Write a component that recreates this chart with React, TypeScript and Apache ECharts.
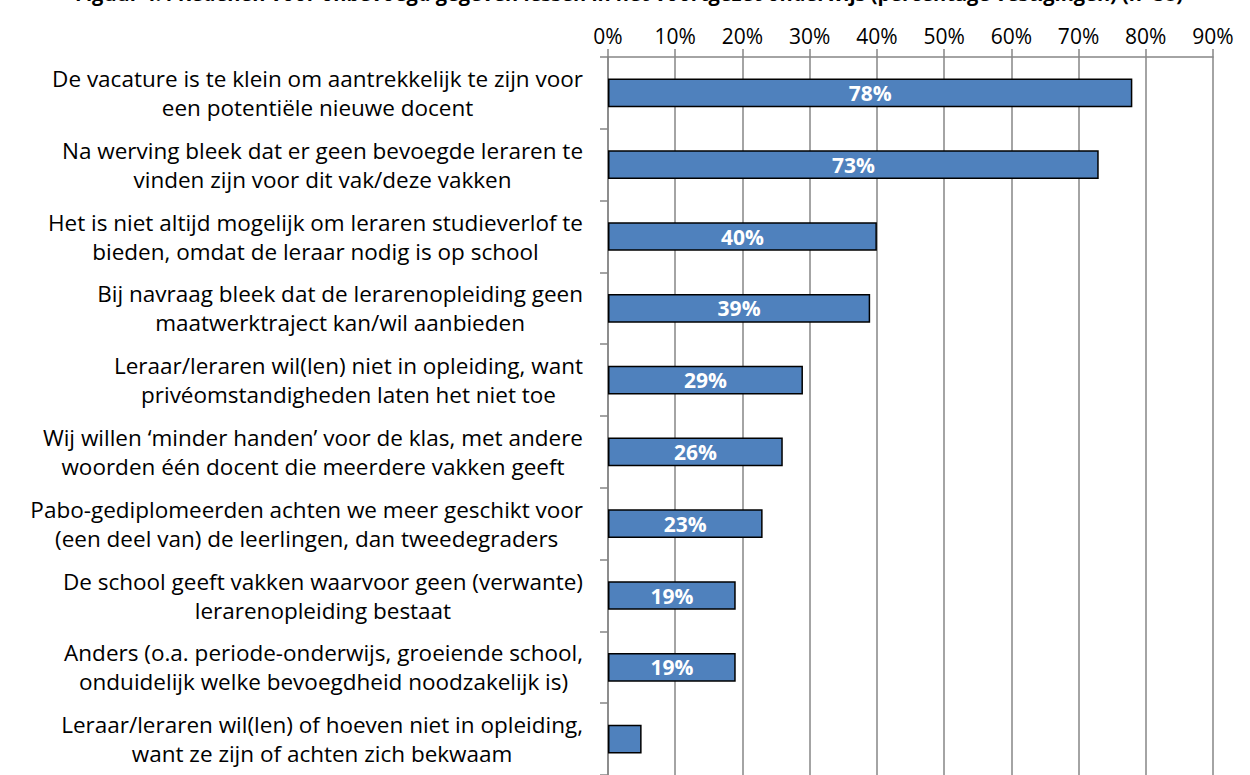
import React, { useEffect, useRef } from "react";
import * as echarts from "echarts";

const TITLE =
  "Figuur 4.4 Redenen voor onbevoegd gegeven lessen in het voortgezet onderwijs (percentage vestigingen) (n=58)";

const CATEGORIES: string[] = [
  "De vacature is te klein om aantrekkelijk te zijn voor\neen potentiële nieuwe docent",
  "Na werving bleek dat er geen bevoegde leraren te\nvinden zijn voor dit vak/deze vakken",
  "Het is niet altijd mogelijk om leraren studieverlof te\nbieden, omdat de leraar nodig is op school",
  "Bij navraag bleek dat de lerarenopleiding geen\nmaatwerktraject kan/wil aanbieden",
  "Leraar/leraren wil(len) niet in opleiding, want\nprivéomstandigheden laten het niet toe",
  "Wij willen ‘minder handen’ voor de klas, met andere\nwoorden één docent die meerdere vakken geeft",
  "Pabo-gediplomeerden achten we meer geschikt voor\n(een deel van) de leerlingen, dan tweedegraders",
  "De school geeft vakken waarvoor geen (verwante)\nlerarenopleiding bestaat",
  "Anders (o.a. periode-onderwijs, groeiende school,\nonduidelijk welke bevoegdheid noodzakelijk is)",
  "Leraar/leraren wil(len) of hoeven niet in opleiding,\nwant ze zijn of achten zich bekwaam",
];

const VALUES: number[] = [78, 73, 40, 39, 29, 26, 23, 19, 19, 5];

const FONT = "'Open Sans', 'Noto Sans', sans-serif";

export default function App() {
  const ref = useRef<HTMLDivElement>(null);

  useEffect(() => {
    if (!ref.current) return;
    const chart = echarts.init(ref.current, undefined, { renderer: "svg" });
    chart.setOption({
      animation: false,
      backgroundColor: "#ffffff",
      graphic: [
        {
          type: "text",
          left: 75,
          top: -17,
          style: {
            text: TITLE,
            font: `bold 20px ${FONT}`,
            fill: "#000000",
          },
        },
      ],
      grid: { left: 608, right: 37, top: 57, bottom: -6, containLabel: false },
      xAxis: {
        type: "value",
        position: "top",
        min: 0,
        max: 90,
        interval: 10,
        axisLine: { show: true, lineStyle: { color: "#868686", width: 1.5 } },
        axisTick: { show: true, length: 8, lineStyle: { color: "#868686", width: 1.5 } },
        splitLine: { show: true, lineStyle: { color: "#868686", width: 1.5 } },
        axisLabel: {
          formatter: "{value}%",
          fontFamily: FONT,
          fontSize: 21,
          color: "#000000",
          margin: 11,
        },
      },
      yAxis: {
        type: "category",
        inverse: true,
        data: CATEGORIES,
        axisLine: { show: true, lineStyle: { color: "#868686", width: 1.5 } },
        axisTick: { show: true, length: 8, inside: false, lineStyle: { color: "#868686", width: 1.5 } },
        axisLabel: {
          margin: 25,
          align: "right",
          formatter: (v: string) =>
            v
              .split("\n")
              .map((l) => `{c|${l}}`)
              .join("\n"),
          rich: {
            c: {
              align: "center",
              fontFamily: FONT,
              fontSize: 22.5,
              lineHeight: 29,
              color: "#000000",
            },
          },
        },
      },
      series: [
        {
          type: "bar",
          barWidth: "40%",
          data: VALUES.map((v) => ({
            value: v,
            label: { show: v >= 10 },
          })),
          itemStyle: {
            color: "#4F81BD",
            borderColor: "#000000",
            borderWidth: 1.5,
          },
          label: {
            show: true,
            position: "inside",
            formatter: "{c}%",
            color: "#ffffff",
            fontFamily: FONT,
            fontWeight: "bold",
            fontSize: 21,
          },
        },
      ],
    });
    return () => chart.dispose();
  }, []);

  return (
    <div
      ref={ref}
      style={{
        position: "absolute",
        left: 0,
        top: 0,
        width: 1250,
        height: 775,
        overflow: "hidden",
        background: "#fff",
      }}
    />
  );
}
